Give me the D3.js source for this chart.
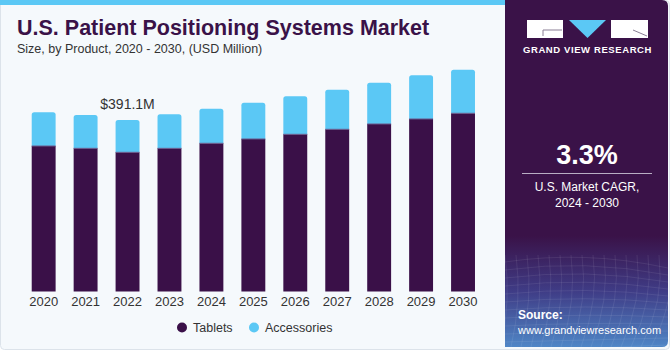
<!DOCTYPE html>
<html>
<head>
<meta charset="utf-8">
<script src="https://cdn.jsdelivr.net/npm/d3@7"></script>
<style>
  body { margin: 0; background: #ffffff; }
  svg text { font-family: "Liberation Sans", Arial, sans-serif; }
</style>
</head>
<body>
<script>
// chart data
const years = ["2020", "2021", "2022", "2023", "2024", "2025", "2026", "2027", "2028", "2029", "2030"];
const tablets = [331.8, 326.5, 317.4, 326.5, 338.0, 347.8, 358.5, 369.9, 382.0, 393.4, 406.4];
const accessories = [76.8, 76.0, 73.7, 77.6, 78.9, 82.8, 86.6, 90.3, 94.2, 99.6, 99.4];
const seriesNames = ["Tablets", "Accessories"];
const seriesColors = ["#3a1048", "#5bc8f5"];
const annotationYear = "2022";
const annotationText = "$391.1M";

const svgWidth = 670;
const svgHeight = 350;
const purple = "#3a1248";

window.onload = main;

function main() {
    const svg = d3.select("body")
        .append("svg")
        .attr("width", svgWidth)
        .attr("height", svgHeight);

    draw_frame(svg);
    draw_bars(svg);
    draw_legend(svg);
    draw_panel(svg);
}

function draw_frame(svg) {
    // card background
    svg.append("rect")
        .attr("x", 0.5).attr("y", 0.5)
        .attr("width", svgWidth - 1).attr("height", svgHeight - 1)
        .attr("rx", 4)
        .attr("fill", "#f5f9fc")
        .attr("stroke", "#dce3ea");
    // light blue top strip
    svg.append("rect")
        .attr("x", 0).attr("y", 0)
        .attr("width", 510).attr("height", 5)
        .attr("fill", "#5bc8f5");

    svg.append("text")
        .text("U.S. Patient Positioning Systems Market")
        .attr("x", 17).attr("y", 35)
        .attr("fill", purple)
        .style("font-size", "21.5px")
        .style("font-weight", "bold");

    svg.append("text")
        .text("Size, by Product, 2020 - 2030, (USD Million)")
        .attr("x", 17).attr("y", 53)
        .attr("fill", "#333")
        .style("font-size", "12.5px");
}

function draw_bars(svg) {
    const x = d3.scaleBand()
        .domain(years)
        .range([22.7, 484])
        .paddingInner(0.43)
        .paddingOuter(0.215);

    const y = d3.scaleLinear()
        .domain([0, 600])
        .range([291.5, 291.5 - 600 * 0.4385]);

    const rows = years.map((yr, i) => ({year: yr, Tablets: tablets[i], Accessories: accessories[i]}));
    const stack = d3.stack().keys(seriesNames);
    const layers = stack(rows);

    const g = svg.append("g");
    layers.forEach((layer, li) => {
        g.append("g")
            .selectAll("path")
            .data(layer)
            .join("path")
            .attr("fill", seriesColors[li])
            .attr("d", d => {
                const x0 = x(d.data.year), w = x.bandwidth();
                const yTop = y(d[1]), yBot = y(d[0]);
                const r = li === 1 ? 2.5 : 0;
                return `M${x0},${yBot} L${x0},${yTop + r} Q${x0},${yTop} ${x0 + r},${yTop}` +
                    ` L${x0 + w - r},${yTop} Q${x0 + w},${yTop} ${x0 + w},${yTop + r} L${x0 + w},${yBot} Z`;
            });
    });

    // thin separator between segments
    g.append("g")
        .selectAll("line")
        .data(layers[0])
        .join("line")
        .attr("x1", d => x(d.data.year))
        .attr("x2", d => x(d.data.year) + x.bandwidth())
        .attr("y1", d => y(d[1]))
        .attr("y2", d => y(d[1]))
        .attr("stroke", "#6a5a8c")
        .attr("stroke-width", 1);

    // year labels
    const xAxis = d3.axisBottom(x).tickSize(0).tickPadding(0);
    const axisG = svg.append("g")
        .attr("transform", "translate(0, 291.5)")
        .call(xAxis);
    axisG.select(".domain").remove();
    axisG.selectAll("text")
        .attr("dy", "14px")
        .attr("fill", "#333")
        .style("font-size", "13px")
        .style("font-family", "\"Liberation Sans\", Arial, sans-serif");

    // annotation above 2022
    const ai = years.indexOf(annotationYear);
    svg.append("text")
        .text(annotationText)
        .attr("x", x(annotationYear) + x.bandwidth() / 2)
        .attr("y", y(tablets[ai] + accessories[ai]) - 11)
        .attr("text-anchor", "middle")
        .attr("fill", "#333")
        .style("font-size", "14px");
}

function draw_legend(svg) {
    const items = [
        {name: seriesNames[0], color: seriesColors[0], x: 182},
        {name: seriesNames[1], color: seriesColors[1], x: 254}
    ];
    const lg = svg.append("g").selectAll("g")
        .data(items)
        .join("g")
        .attr("transform", d => `translate(${d.x}, 327.5)`);
    lg.append("circle")
        .attr("r", 5)
        .attr("fill", d => d.color);
    lg.append("text")
        .text(d => d.name)
        .attr("x", 11)
        .attr("y", 4.5)
        .attr("fill", "#333")
        .style("font-size", "12.5px");
}

function draw_panel(svg) {
    const defs = svg.append("defs");
    const grad = defs.append("linearGradient")
        .attr("id", "panelGrad")
        .attr("x1", 0).attr("y1", 0).attr("x2", 0).attr("y2", 1);
    grad.append("stop").attr("offset", "0%").attr("stop-color", purple);
    grad.append("stop").attr("offset", "68%").attr("stop-color", purple);
    grad.append("stop").attr("offset", "84%").attr("stop-color", "#3f3c86");
    grad.append("stop").attr("offset", "100%").attr("stop-color", "#4f86c6");

    const px = 505, pw = 163, ph = 347;
    svg.append("path")
        .attr("d", `M${px},0 L${px + pw - 6},0 Q${px + pw},0 ${px + pw},6 L${px + pw},${ph - 6} Q${px + pw},${ph} ${px + pw - 6},${ph} L${px},${ph} Z`)
        .attr("fill", "url(#panelGrad)");

    // faint wireframe in the source area
    const wire = svg.append("g")
        .attr("stroke", "#ffffff")
        .attr("stroke-opacity", 0.08)
        .attr("fill", "none");
    d3.range(0, 12).forEach(i => {
        wire.append("path")
            .attr("d", `M${px},${262 + i * 8} Q${px + 80},${250 + i * 9} ${px + pw},${268 + i * 7}`);
    });
    d3.range(0, 16).forEach(i => {
        wire.append("path")
            .attr("d", `M${px + i * 11},${255} Q${px + i * 11 + 6},${300} ${px + i * 10 - 4},${ph}`);
    });

    // logo
    const logo = svg.append("g");
    logo.append("rect").attr("x", 527).attr("y", 20).attr("width", 36).attr("height", 18).attr("fill", "#fff");
    logo.append("line").attr("x1", 543).attr("x2", 562).attr("y1", 30).attr("y2", 30)
        .attr("stroke", "#8a7f95").attr("stroke-width", 1);
    logo.append("line").attr("x1", 543).attr("x2", 543).attr("y1", 30).attr("y2", 36)
        .attr("stroke", "#8a7f95").attr("stroke-width", 1);
    logo.append("path").attr("d", "M569,20 L606,20 L587.5,38 Z").attr("fill", "#5bc8f5");
    logo.append("rect").attr("x", 611).attr("y", 20).attr("width", 37).attr("height", 18).attr("fill", "#fff");
    logo.append("line").attr("x1", 633).attr("x2", 647).attr("y1", 30).attr("y2", 36)
        .attr("stroke", "#8a7f95").attr("stroke-width", 1);
    logo.append("text")
        .text("GRAND VIEW RESEARCH")
        .attr("x", 587.5).attr("y", 53)
        .attr("text-anchor", "middle")
        .attr("fill", "#fff")
        .style("font-size", "9.5px")
        .style("font-weight", "bold")
        .style("letter-spacing", "0.6px");

    // CAGR
    svg.append("text")
        .text("3.3%")
        .attr("x", 587).attr("y", 164)
        .attr("text-anchor", "middle")
        .attr("fill", "#fff")
        .style("font-size", "27px")
        .style("font-weight", "bold");
    svg.append("line")
        .attr("x1", 522).attr("x2", 652).attr("y1", 173.5).attr("y2", 173.5)
        .attr("stroke", "#b9aec4").attr("stroke-width", 1);
    svg.append("text")
        .text("U.S. Market CAGR,")
        .attr("x", 587).attr("y", 191)
        .attr("text-anchor", "middle")
        .attr("fill", "#fff")
        .style("font-size", "12px");
    svg.append("text")
        .text("2024 - 2030")
        .attr("x", 587).attr("y", 207)
        .attr("text-anchor", "middle")
        .attr("fill", "#fff")
        .style("font-size", "12px");

    // source
    svg.append("text")
        .text("Source:")
        .attr("x", 518).attr("y", 319)
        .attr("fill", "#fff")
        .style("font-size", "12px")
        .style("font-weight", "bold");
    svg.append("text")
        .text("www.grandviewresearch.com")
        .attr("x", 518).attr("y", 334)
        .attr("fill", "#fff")
        .style("font-size", "11px");
}
</script>
</body>
</html>
